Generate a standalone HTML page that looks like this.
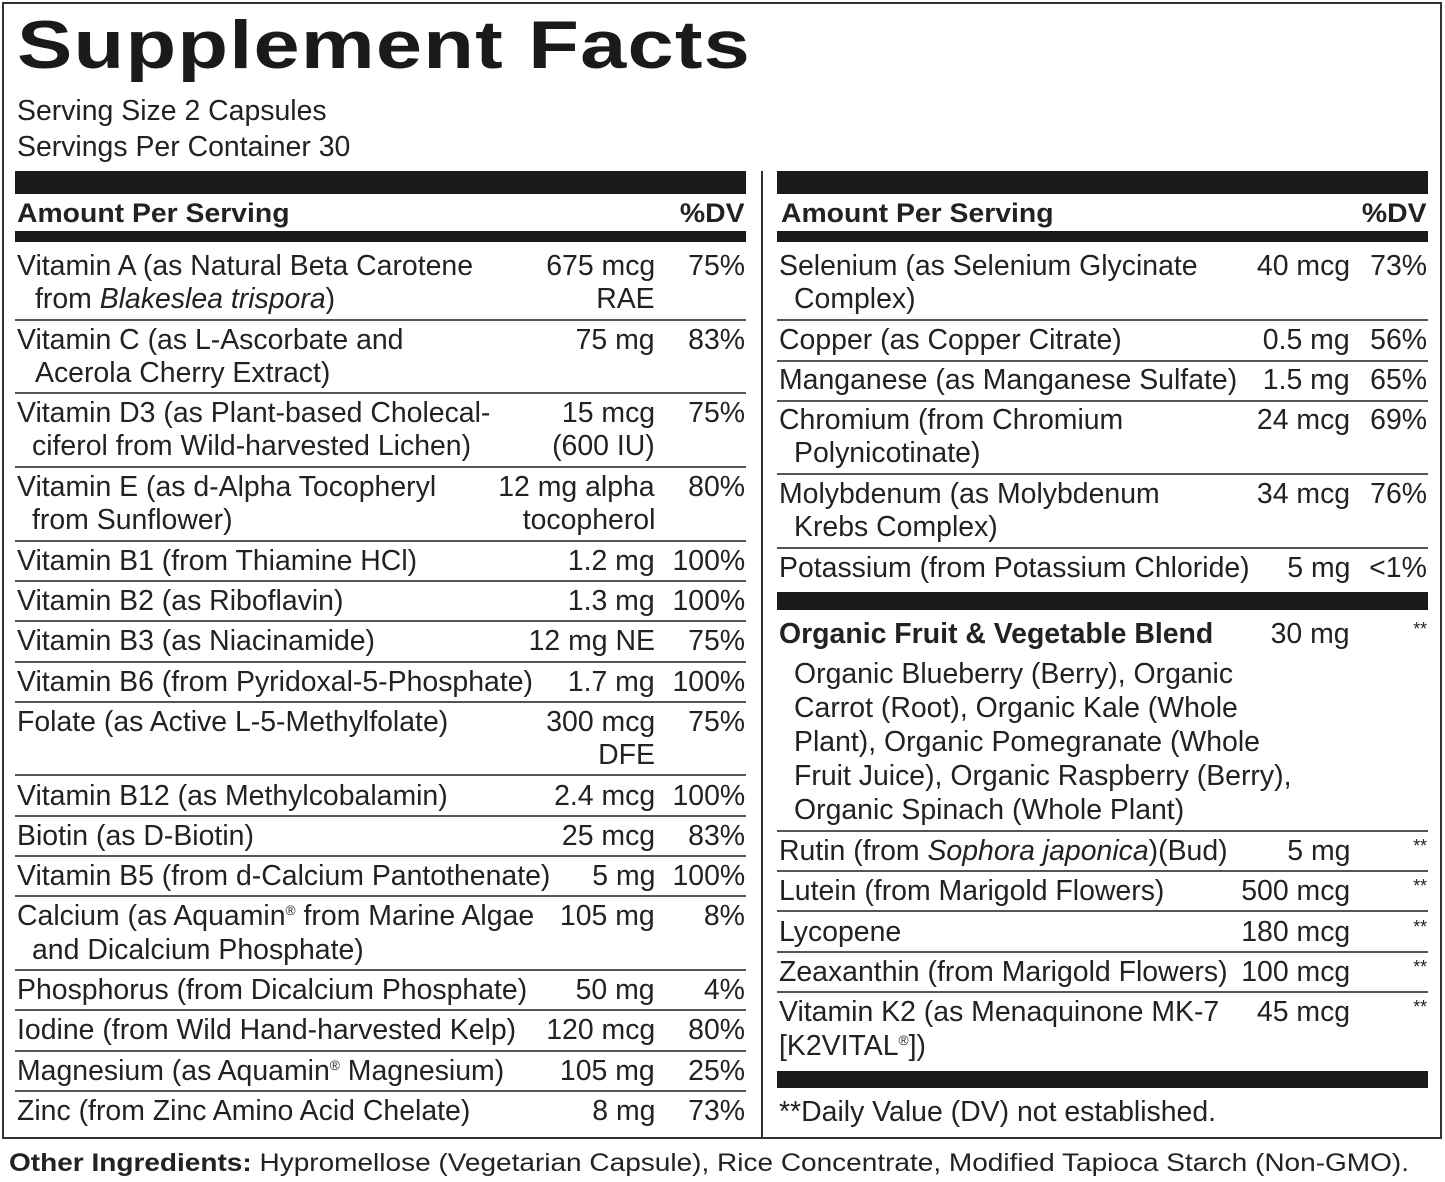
<!DOCTYPE html>
<html><head><meta charset="utf-8"><style>
body{margin:0;width:1445px;height:1182px;background:#fff;position:relative;overflow:hidden;color:#222}
.t{position:absolute;font-family:"Liberation Sans",sans-serif;font-size:29px;line-height:30px;white-space:nowrap;transform:scaleX(.98);transform-origin:left center}
.r{transform-origin:right center;text-align:right}
.b{font-weight:bold}
.h{font-size:27px;transform:scaleX(1.05)}
.bar{position:absolute;background:#1a1a1a}
.s{position:absolute;height:2px;background:#555}
.sl{left:15px;width:731px}.sr{left:777px;width:651px}
sup{font-size:14px;line-height:0;vertical-align:10px}
</style></head><body>
<div style="position:absolute;left:2px;top:2px;width:1436px;height:1133px;border:2px solid #333"></div>
<div style="position:absolute;left:761px;top:171px;width:2px;height:966px;background:#333"></div>
<div class="t b" style="left:17px;top:10px;font-size:68px;line-height:70px;transform:scaleX(1.22);letter-spacing:1px;color:#1a1a1a">Supplement Facts</div>
<div class="t" style="left:17px;top:96px">Serving Size 2 Capsules</div>
<div class="t" style="left:17px;top:132px">Servings Per Container 30</div>

<div class="bar" style="left:15px;top:171px;width:731px;height:23px"></div>
<div class="bar" style="left:777px;top:171px;width:651px;height:23px"></div>
<div class="t b h" style="left:17px;top:198px">Amount Per Serving</div>
<div class="t b r h" style="right:700px;top:198px">%DV</div>
<div class="t b h" style="left:781px;top:198px">Amount Per Serving</div>
<div class="t b r h" style="right:18px;top:198px">%DV</div>
<div class="bar" style="left:15px;top:231px;width:731px;height:11px"></div>
<div class="bar" style="left:777px;top:231px;width:651px;height:11px"></div>

<!-- left column -->
<div class="t" style="left:17px;top:251px">Vitamin A (as Natural Beta Carotene</div>
<div class="t" style="left:35px;top:284px">from <i>Blakeslea trispora</i>)</div>
<div class="t r" style="right:790px;top:251px">675 mcg</div><div class="t r" style="right:790px;top:284px">RAE</div>
<div class="t r" style="right:700px;top:251px">75%</div>
<div class="s sl" style="top:319px"></div>
<div class="t" style="left:17px;top:325px">Vitamin C (as L-Ascorbate and</div>
<div class="t" style="left:35px;top:358px">Acerola Cherry Extract)</div>
<div class="t r" style="right:790px;top:325px">75 mg</div><div class="t r" style="right:700px;top:325px">83%</div>
<div class="s sl" style="top:392px"></div>
<div class="t" style="left:17px;top:398px">Vitamin D3 (as Plant-based Cholecal-</div>
<div class="t" style="left:32px;top:431px">ciferol from Wild-harvested Lichen)</div>
<div class="t r" style="right:790px;top:398px">15 mcg</div><div class="t r" style="right:790px;top:431px">(600 IU)</div>
<div class="t r" style="right:700px;top:398px">75%</div>
<div class="s sl" style="top:466px"></div>
<div class="t" style="left:17px;top:472px">Vitamin E (as d-Alpha Tocopheryl</div>
<div class="t" style="left:32px;top:505px">from Sunflower)</div>
<div class="t r" style="right:790px;top:472px">12 mg alpha</div><div class="t r" style="right:790px;top:505px">tocopherol</div>
<div class="t r" style="right:700px;top:472px">80%</div>
<div class="s sl" style="top:540px"></div>
<div class="t" style="left:17px;top:546px">Vitamin B1 (from Thiamine HCl)</div>
<div class="t r" style="right:790px;top:546px">1.2 mg</div><div class="t r" style="right:700px;top:546px">100%</div>
<div class="s sl" style="top:580px"></div>
<div class="t" style="left:17px;top:586px">Vitamin B2 (as Riboflavin)</div>
<div class="t r" style="right:790px;top:586px">1.3 mg</div><div class="t r" style="right:700px;top:586px">100%</div>
<div class="s sl" style="top:620px"></div>
<div class="t" style="left:17px;top:626px">Vitamin B3 (as Niacinamide)</div>
<div class="t r" style="right:790px;top:626px">12 mg NE</div><div class="t r" style="right:700px;top:626px">75%</div>
<div class="s sl" style="top:661px"></div>
<div class="t" style="left:17px;top:667px">Vitamin B6 (from Pyridoxal-5-Phosphate)</div>
<div class="t r" style="right:790px;top:667px">1.7 mg</div><div class="t r" style="right:700px;top:667px">100%</div>
<div class="s sl" style="top:701px"></div>
<div class="t" style="left:17px;top:707px">Folate (as Active L-5-Methylfolate)</div>
<div class="t r" style="right:790px;top:707px">300 mcg</div><div class="t r" style="right:790px;top:740px">DFE</div>
<div class="t r" style="right:700px;top:707px">75%</div>
<div class="s sl" style="top:774px"></div>
<div class="t" style="left:17px;top:781px">Vitamin B12 (as Methylcobalamin)</div>
<div class="t r" style="right:790px;top:781px">2.4 mcg</div><div class="t r" style="right:700px;top:781px">100%</div>
<div class="s sl" style="top:815px"></div>
<div class="t" style="left:17px;top:821px">Biotin (as D-Biotin)</div>
<div class="t r" style="right:790px;top:821px">25 mcg</div><div class="t r" style="right:700px;top:821px">83%</div>
<div class="s sl" style="top:855px"></div>
<div class="t" style="left:17px;top:861px">Vitamin B5 (from d-Calcium Pantothenate)</div>
<div class="t r" style="right:790px;top:861px">5 mg</div><div class="t r" style="right:700px;top:861px">100%</div>
<div class="s sl" style="top:895px"></div>
<div class="t" style="left:17px;top:901px">Calcium (as Aquamin<sup>®</sup> from Marine Algae</div>
<div class="t" style="left:32px;top:935px">and Dicalcium Phosphate)</div>
<div class="t r" style="right:790px;top:901px">105 mg</div><div class="t r" style="right:700px;top:901px">8%</div>
<div class="s sl" style="top:969px"></div>
<div class="t" style="left:17px;top:975px">Phosphorus (from Dicalcium Phosphate)</div>
<div class="t r" style="right:790px;top:975px">50 mg</div><div class="t r" style="right:700px;top:975px">4%</div>
<div class="s sl" style="top:1009px"></div>
<div class="t" style="left:17px;top:1015px">Iodine (from Wild Hand-harvested Kelp)</div>
<div class="t r" style="right:790px;top:1015px">120 mcg</div><div class="t r" style="right:700px;top:1015px">80%</div>
<div class="s sl" style="top:1050px"></div>
<div class="t" style="left:17px;top:1056px">Magnesium (as Aquamin<sup>®</sup> Magnesium)</div>
<div class="t r" style="right:790px;top:1056px">105 mg</div><div class="t r" style="right:700px;top:1056px">25%</div>
<div class="s sl" style="top:1090px"></div>
<div class="t" style="left:17px;top:1096px">Zinc (from Zinc Amino Acid Chelate)</div>
<div class="t r" style="right:790px;top:1096px">8 mg</div><div class="t r" style="right:700px;top:1096px">73%</div>

<!-- right column -->
<div class="t" style="left:779px;top:251px">Selenium (as Selenium Glycinate</div>
<div class="t" style="left:794px;top:284px">Complex)</div>
<div class="t r" style="right:95px;top:251px">40 mcg</div><div class="t r" style="right:18px;top:251px">73%</div>
<div class="s sr" style="top:319px"></div>
<div class="t" style="left:779px;top:325px">Copper (as Copper Citrate)</div>
<div class="t r" style="right:95px;top:325px">0.5 mg</div><div class="t r" style="right:18px;top:325px">56%</div>
<div class="s sr" style="top:360px"></div>
<div class="t" style="left:779px;top:365px">Manganese (as Manganese Sulfate)</div>
<div class="t r" style="right:95px;top:365px">1.5 mg</div><div class="t r" style="right:18px;top:365px">65%</div>
<div class="s sr" style="top:400px"></div>
<div class="t" style="left:779px;top:405px">Chromium (from Chromium</div>
<div class="t" style="left:794px;top:438px">Polynicotinate)</div>
<div class="t r" style="right:95px;top:405px">24 mcg</div><div class="t r" style="right:18px;top:405px">69%</div>
<div class="s sr" style="top:473px"></div>
<div class="t" style="left:779px;top:479px">Molybdenum (as Molybdenum</div>
<div class="t" style="left:794px;top:512px">Krebs Complex)</div>
<div class="t r" style="right:95px;top:479px">34 mcg</div><div class="t r" style="right:18px;top:479px">76%</div>
<div class="s sr" style="top:547px"></div>
<div class="t" style="left:779px;top:553px">Potassium (from Potassium Chloride)</div>
<div class="t r" style="right:95px;top:553px">5 mg</div><div class="t r" style="right:18px;top:553px">&lt;1%</div>
<div class="bar" style="left:777px;top:592px;width:651px;height:18px"></div>
<div class="t b" style="left:779px;top:619px">Organic Fruit &amp; Vegetable Blend</div>
<div class="t r" style="right:95px;top:619px">30 mg</div><div class="t r" style="right:18px;top:614px;font-size:18px">**</div>
<div class="t" style="left:794px;top:659px">Organic Blueberry (Berry), Organic</div>
<div class="t" style="left:794px;top:693px">Carrot (Root), Organic Kale (Whole</div>
<div class="t" style="left:794px;top:727px">Plant), Organic Pomegranate (Whole</div>
<div class="t" style="left:794px;top:761px">Fruit Juice), Organic Raspberry (Berry),</div>
<div class="t" style="left:794px;top:795px">Organic Spinach (Whole Plant)</div>
<div class="s sr" style="top:830px"></div>
<div class="t" style="left:779px;top:836px">Rutin (from <i>Sophora japonica</i>)(Bud)</div>
<div class="t r" style="right:95px;top:836px">5 mg</div><div class="t r" style="right:18px;top:831px;font-size:18px">**</div>
<div class="s sr" style="top:870px"></div>
<div class="t" style="left:779px;top:876px">Lutein (from Marigold Flowers)</div>
<div class="t r" style="right:95px;top:876px">500 mcg</div><div class="t r" style="right:18px;top:871px;font-size:18px">**</div>
<div class="s sr" style="top:910px"></div>
<div class="t" style="left:779px;top:917px">Lycopene</div>
<div class="t r" style="right:95px;top:917px">180 mcg</div><div class="t r" style="right:18px;top:912px;font-size:18px">**</div>
<div class="s sr" style="top:951px"></div>
<div class="t" style="left:779px;top:957px">Zeaxanthin (from Marigold Flowers)</div>
<div class="t r" style="right:95px;top:957px">100 mcg</div><div class="t r" style="right:18px;top:952px;font-size:18px">**</div>
<div class="s sr" style="top:991px"></div>
<div class="t" style="left:779px;top:997px">Vitamin K2 (as Menaquinone MK-7</div>
<div class="t" style="left:779px;top:1031px">[K2VITAL<sup>®</sup>])</div>
<div class="t r" style="right:95px;top:997px">45 mcg</div><div class="t r" style="right:18px;top:992px;font-size:18px">**</div>
<div class="bar" style="left:777px;top:1071px;width:651px;height:17px"></div>
<div class="t" style="left:779px;top:1097px">**Daily Value (DV) not established.</div>

<div class="t" style="left:9px;top:1149px;font-size:25px;line-height:28px;transform:scaleX(1.12)"><b>Other Ingredients:</b> Hypromellose (Vegetarian Capsule), Rice Concentrate, Modified Tapioca Starch (Non-GMO).</div>
</body></html>
